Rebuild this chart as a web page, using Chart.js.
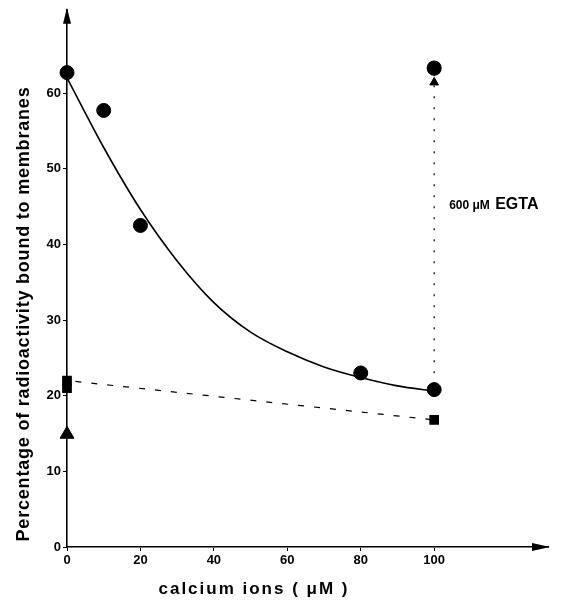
<!DOCTYPE html>
<html>
<head>
<meta charset="utf-8">
<script src="https://cdn.jsdelivr.net/npm/chart.js@4"></script>
<style>
  html, body { margin: 0; padding: 0; background: #fff; }
  #wrap { width: 579px; height: 606px; }
</style>
</head>
<body>
<div id="wrap"><canvas id="chart1"></canvas></div>
<script>
// values
var calcium = [0, 10, 20, 80, 100];
var bound = [62.7, 57.7, 42.5, 23.0, 20.8];

// fitted curve through the circles (read at every 10 uM)
var fitX = [0, 10, 20, 30, 40, 50, 60, 70, 80, 90, 100];
var fitY = [62.0, 52.8, 44.6, 37.8, 32.3, 28.4, 25.8, 23.8, 22.4, 21.3, 20.6];

// squares (control) joined by the dashed line
var ctrlX = [0, 0, 100];
var ctrlY = [21.0, 22.0, 16.8];

// after adding 600 uM EGTA at 100 uM calcium
var egtaX = [100, 100];
var egtaY = [21.5, 63.3];

// triangle on the y axis
var triX = [0];
var triY = [14.9];

var xTicks = [0, 20, 40, 60, 80, 100];
var yTicks = [0, 10, 20, 30, 40, 50, 60];

function pts(xs, ys) {
    return xs.map(function (x, i) { return { x: x, y: ys[i] }; });
}

var FONT = '"Liberation Sans", Arial, sans-serif';

// axis arrows and free text
var extras = {
    id: 'extras',
    afterDraw: function (chart) {
        var c = chart.ctx, a = chart.chartArea;
        var xs = chart.scales.x, ys = chart.scales.y;
        c.save();
        c.fillStyle = '#000';
        // y axis arrow
        c.beginPath();
        c.moveTo(a.left, a.top - 2);
        c.lineTo(a.left - 4, a.top + 14);
        c.lineTo(a.left + 4, a.top + 14);
        c.closePath();
        c.fill();
        // x axis arrow
        c.beginPath();
        c.moveTo(a.right + 2, a.bottom);
        c.lineTo(a.right - 16, a.bottom - 4);
        c.lineTo(a.right - 16, a.bottom + 4);
        c.closePath();
        c.fill();

        // EGTA label
        var tx = xs.getPixelForValue(100) + 15;
        var ty = ys.getPixelForValue(45.3);
        c.textBaseline = 'middle';
        c.textAlign = 'left';
        c.font = 'bold 12px ' + FONT;
        c.fillText('600 \u03bcM', tx, ty + 1);
        var w = c.measureText('600 \u03bcM ').width;
        c.font = 'bold 16px ' + FONT;
        c.fillText('EGTA', tx + w + 2, ty);

        // axis titles
        c.font = 'bold 18px ' + FONT;
        c.letterSpacing = '0.8px';
        c.textAlign = 'center';
        c.save();
        c.translate(24, 314);
        c.rotate(-Math.PI / 2);
        c.fillText('Percentage of radioactivity bound to membranes', 0, 0);
        c.restore();

        c.font = 'bold 17px ' + FONT;
        c.letterSpacing = '2px';
        c.fillText('calcium ions ( \u03bcM )', 254, 589);
        c.restore();
    }
};

var ctx1 = document.getElementById('chart1').getContext('2d');
var chart1 = new Chart(ctx1, {
    type: 'scatter',
    data: {
        datasets: [{
            label: 'fit',
            data: pts(fitX, fitY),
            showLine: true,
            cubicInterpolationMode: 'monotone',
            borderColor: '#000',
            borderWidth: 1.6,
            pointRadius: 0,
            clip: false
        }, {
            label: 'bound',
            data: pts(calcium, bound),
            pointStyle: 'circle',
            pointRadius: 7,
            backgroundColor: '#000',
            borderColor: '#000',
            clip: false
        }, {
            label: 'EGTA',
            data: pts(egtaX, egtaY),
            showLine: true,
            borderColor: '#000',
            borderWidth: 1.2,
            borderDash: [2, 9],
            pointStyle: ['line', 'circle'],
            pointRadius: [0, 7],
            backgroundColor: '#000',
            clip: false
        }, {
            label: 'EGTA arrow',
            data: [{ x: 100, y: 61.4 }],
            pointStyle: 'triangle',
            pointRadius: 5,
            backgroundColor: '#000',
            borderColor: '#000',
            clip: false
        }, {
            label: 'control',
            data: pts(ctrlX, ctrlY),
            showLine: true,
            borderColor: '#000',
            borderWidth: 1.2,
            borderDash: [6, 10],
            pointStyle: 'rect',
            pointRadius: 6,
            backgroundColor: '#000',
            clip: false
        }, {
            label: 'triangle',
            data: pts(triX, triY),
            pointStyle: 'triangle',
            pointRadius: 8,
            backgroundColor: '#000',
            borderColor: '#000',
            clip: false
        }]
    },
    options: {
        responsive: true,
        maintainAspectRatio: false,
        animation: false,
        layout: { padding: { top: 8, right: 31, left: 0, bottom: 0 } },
        plugins: {
            legend: { display: false },
            tooltip: { enabled: false }
        },
        scales: {
            x: {
                type: 'linear',
                min: 0,
                max: 131,
                afterBuildTicks: function (s) {
                    s.ticks = xTicks.map(function (v) { return { value: v }; });
                },
                afterFit: function (s) { s.height = 59; },
                grid: { drawOnChartArea: false, drawTicks: true, tickLength: 4, color: '#000' },
                border: { display: true, color: '#000', width: 1.6 },
                ticks: {
                    color: '#000',
                    padding: 2,
                    font: { family: FONT, size: 13, weight: 'bold' }
                }
            },
            y: {
                type: 'linear',
                min: 0,
                max: 71,
                afterBuildTicks: function (s) {
                    s.ticks = yTicks.map(function (v) { return { value: v }; });
                },
                afterFit: function (s) { s.width = 67; },
                grid: { drawOnChartArea: false, drawTicks: true, tickLength: 4, color: '#000' },
                border: { display: true, color: '#000', width: 1.6 },
                ticks: {
                    color: '#000',
                    padding: 2,
                    font: { family: FONT, size: 13, weight: 'bold' }
                }
            }
        }
    },
    plugins: [extras]
});
</script>
</body>
</html>
